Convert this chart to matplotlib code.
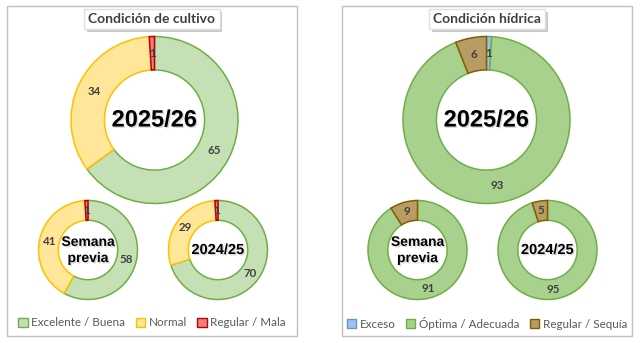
import matplotlib.pyplot as plt
import matplotlib.patheffects as pe
from matplotlib.patches import Patch, Rectangle

# condición de cultivo (orden horario desde arriba)
cult_labels = ["Excelente / Buena", "Normal", "Regular / Mala"]
cult_actual = [65, 34, 1]
cult_previa = [58, 41, 1]
cult_anterior = [70, 29, 1]
cult_fill = ["#C5E0B4", "#FFE699", "#F08080"]
cult_edge = ["#70AD47", "#FFC000", "#C00000"]

# condición hídrica
hid_labels = ["Exceso", "Óptima / Adecuada", "Regular / Sequía"]
hid_actual = [1, 93, 6]
hid_previa = [0, 91, 9]
hid_anterior = [0, 95, 5]
hid_fill = ["#9DC3E6", "#A9D18E", "#B99B64"]
hid_edge = ["#5B9BD5", "#70AD47", "#7F6000"]

centers = ["2025/26", "Semana\nprevia", "2024/25"]

W, H = 640, 343
fig = plt.figure(figsize=(6.4, 3.43), dpi=100)
ax = fig.add_axes([0, 0, 1, 1])
FONT = ["Lato", "DejaVu Sans"]
BIG = ["Liberation Sans", "DejaVu Sans"]


def donut(vals, fill, edge, cx, cy, r, center, size):
    wedges, _, autotexts = ax.pie(
        vals, center=(cx, H - cy), radius=r, startangle=90, counterclock=False,
        colors=fill, autopct=lambda p: f"{p:.0f}" if p >= 0.5 else "",
        pctdistance=0.8, wedgeprops=dict(width=r * 0.4, linewidth=1.1),
        textprops=dict(fontsize=8.3, fontweight="bold", color="#404040", family=FONT))
    for w, ec in zip(wedges, edge):
        w.set_edgecolor(ec)
    ax.text(cx, H - cy, center, ha="center", va="center", fontsize=size,
            fontweight="bold", color="black", family=BIG, linespacing=1.2,
            path_effects=[pe.SimplePatchShadow(offset=(1, -1), alpha=0.15), pe.Normal()])


def panel(x0, x1, title, data, fill, edge, labels, big_cx, small_cx):
    ax.add_patch(Rectangle((x0, H - 336), x1 - x0, 330, fill=False, ec="#BFBFBF", lw=1))
    tx = (x0 + x1) / 2
    t = ax.text(tx, H - 19, title, ha="center", va="center", fontsize=10, fontweight="bold",
                color="#404040", family=FONT,
                bbox=dict(boxstyle="square,pad=0.3", fc="white", ec="#E0E0E0"))
    t.get_bbox_patch().set_path_effects(
        [pe.SimplePatchShadow(offset=(2, -2), shadow_rgbFace="#BBBBBB", alpha=0.8), pe.Normal()])
    donut(data[0], fill, edge, big_cx, 120, 83.5, centers[0], 17)
    donut(data[1], fill, edge, small_cx[0], 250, 49.5, centers[1], 10)
    donut(data[2], fill, edge, small_cx[1], 250, 49.5, centers[2], 10.5)
    handles = [Patch(fc=f, ec=e, lw=1) for f, e in zip(fill, edge)]
    ax.legend(handles, labels, loc="center", bbox_to_anchor=(tx / W, 1 - 323 / H),
              bbox_transform=fig.transFigure, ncol=3, frameon=False,
              handlelength=0.8, handleheight=0.8, handletextpad=0.3, columnspacing=0.9,
              prop=dict(family=FONT, size=8.4), labelcolor="#595959")


panel(7, 297, "Condición de cultivo", [cult_actual, cult_previa, cult_anterior],
      cult_fill, cult_edge, cult_labels, 154.5, (88, 218))
legend1 = ax.get_legend()
ax.add_artist(legend1)
panel(342, 632, "Condición hídrica", [hid_actual, hid_previa, hid_anterior],
      hid_fill, hid_edge, hid_labels, 486.5, (417.5, 547.5))

ax.set_xlim(0, W)
ax.set_ylim(0, H)
ax.set_aspect("auto")
ax.axis("off")
fig.savefig("out.png", dpi=100)
